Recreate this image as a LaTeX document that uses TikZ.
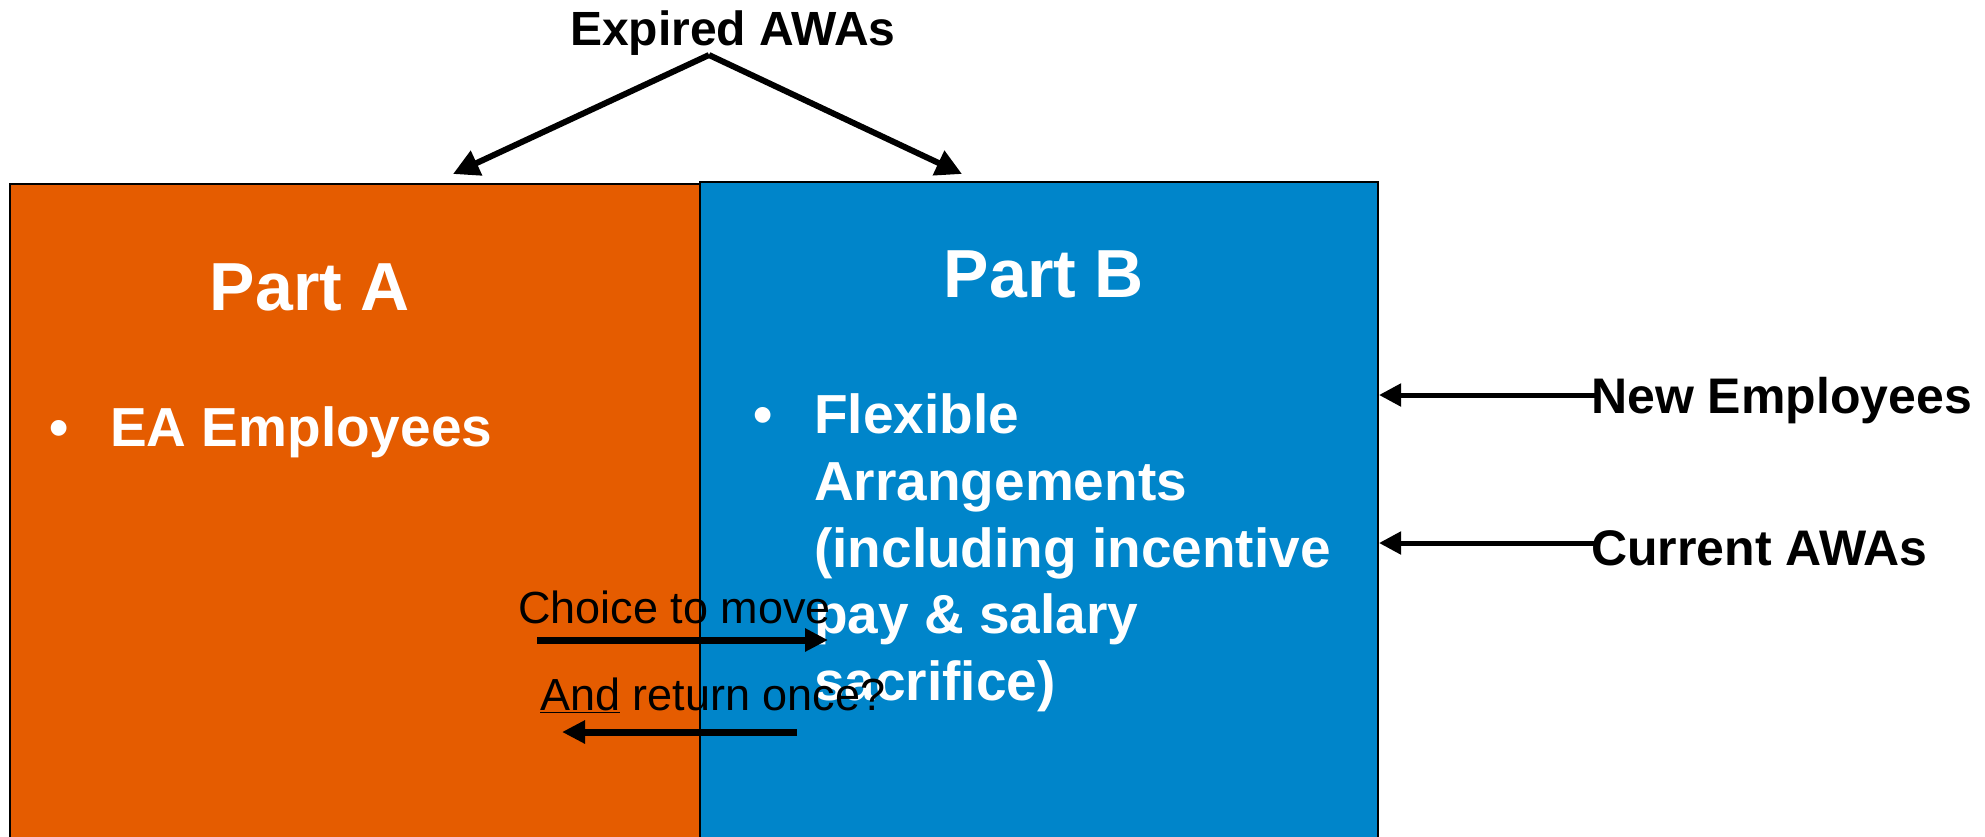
\documentclass[tikz,border=0pt]{standalone}
\usepackage{fontspec}
\setmainfont{Liberation Sans}
\usetikzlibrary{arrows.meta}
\definecolor{partAorange}{RGB}{229,92,0}
\definecolor{partBblue}{RGB}{0,133,202}
\tikzset{
  partbox/.style={draw=black,line width=2pt,inner sep=0pt,anchor=north west},
  bigarrow/.style={line width=6pt,-{Triangle[length=26pt,width=26pt]}},
  sidearrow/.style={line width=5pt,-{Triangle[length=22pt,width=22pt]}},
  movearrow/.style={line width=7pt,-{Triangle[length=23pt,width=22pt]}},
  headtext/.style={text=white,font=\bfseries\fontsize{68}{80}\selectfont,anchor=base,inner sep=0pt},
  bodytext/.style={text=white,font=\bfseries\fontsize{55}{66}\selectfont,anchor=base west,inner sep=0pt},
  outtext/.style={font=\bfseries\fontsize{50}{60}\selectfont,anchor=base west,inner sep=0pt},
  movetext/.style={font=\fontsize{45}{54}\selectfont,anchor=base west,inner sep=0pt}
}
\begin{document}
\begin{tikzpicture}[x=1pt,y=1pt,yscale=-1,xscale=1]
\useasboundingbox (0,0) rectangle (1985,836);

%Shape: Rectangle
\node [partbox,fill=partAorange,minimum width=690pt,minimum height=670pt] (boxA) at (9,183) {};
\node [partbox,fill=partBblue,minimum width=678pt,minimum height=670pt] (boxB) at (699,181) {};

% Text Node
\node [font=\bfseries\fontsize{48}{58}\selectfont,anchor=base west,inner sep=0pt] (expired) at (570,45) {Expired AWAs};
\node [headtext] (partA) at (310,310) {Part A};
\node [headtext] (partB) at (1044,297) {Part B};

\node [bodytext,anchor=base] (bulletA) at (59,446) {•};
\node [bodytext] (eaemp) at (110,446) {EA Employees};

\node [bodytext,anchor=base] (bulletB) at (763,433) {•};
\node [bodytext] (flex1) at (814,433) {Flexible};
\node [bodytext] (flex2) at (814,500) {Arrangements};
\node [bodytext] (flex3) at (814,567) {(including incentive};
\node [bodytext] (flex4) at (814,633) {pay \& salary};
\node [bodytext] (flex5) at (814,700) {sacrifice)};

\node [outtext] (newemp) at (1591,413) {New Employees};
\node [outtext] (curawa) at (1591,565) {Current AWAs};

\node [movetext] (choice) at (518,623) {Choice to move};
\node [movetext] (return) at (540,710) {\underline{And} return once?};

%Straight Lines
\coordinate (apex) at (709,55);
\coordinate (tipA) at (453,174);
\coordinate (tipB) at (962,174);
\draw [bigarrow] (apex) -- (tipA);
\draw [bigarrow] (apex) -- (tipB);

\coordinate (newtail) at (1600,395);
\coordinate (curtail) at (1600,543);
\draw [sidearrow] (newtail) -- (boxB.east |- newtail);
\draw [sidearrow] (curtail) -- (boxB.east |- curtail);

\coordinate (movetail) at (537,640);
\coordinate (movetip) at (828,640);
\coordinate (backtail) at (797,732);
\coordinate (backtip) at (562,732);
\draw [movearrow] (movetail) -- (movetip);
\draw [movearrow] (backtail) -- (backtip);

\end{tikzpicture}
\end{document}
